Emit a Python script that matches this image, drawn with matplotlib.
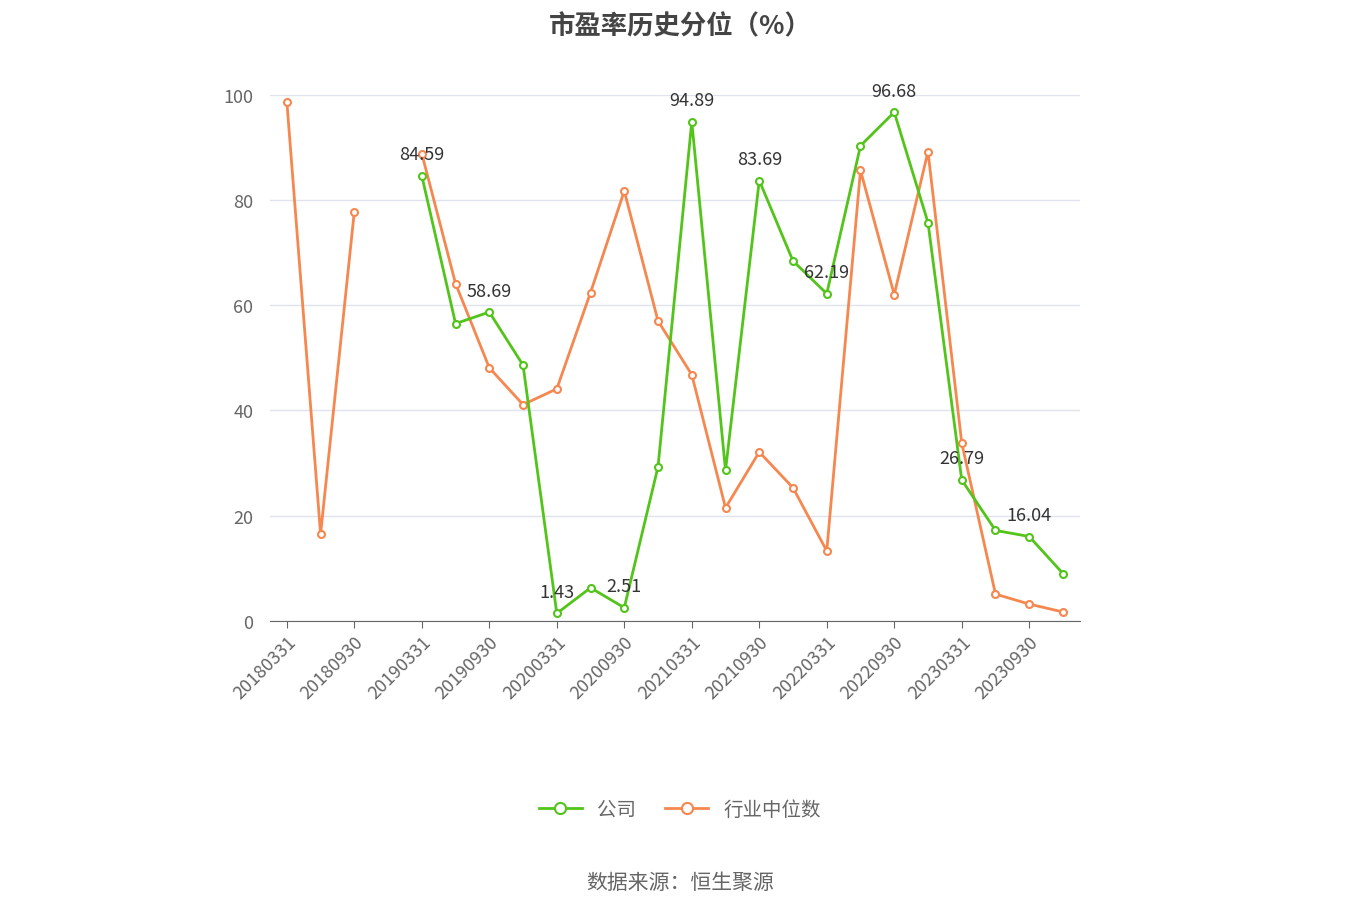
import matplotlib.pyplot as plt
import numpy as np

plt.rcParams['font.family'] = ['Noto Sans CJK SC', 'DejaVu Sans']

dates = ["20180331", "20180630", "20180930", "20181231",
         "20190331", "20190630", "20190930", "20191231",
         "20200331", "20200630", "20200930", "20201231",
         "20210331", "20210630", "20210930", "20211231",
         "20220331", "20220630", "20220930", "20221231",
         "20230331", "20230630", "20230930", "20231231"]
nan = np.nan
company = [nan, nan, nan, nan,
           84.59, 56.5, 58.69, 48.6,
           1.43, 6.3, 2.51, 29.3,
           94.89, 28.6, 83.69, 68.4,
           62.19, 90.3, 96.68, 75.7,
           26.79, 17.2, 16.04, 9.0]
industry = [98.7, 16.5, 77.8, nan,
            88.8, 64.1, 48.1, 41.1,
            44.1, 62.4, 81.7, 57.0,
            46.8, 21.5, 32.1, 25.3,
            13.3, 85.6, 62.0, 89.2,
            33.8, 5.1, 3.2, 1.7]
labeled = [4, 6, 8, 10, 12, 14, 16, 18, 20, 22]

green = "#52c41a"
orange = "#f5874f"
x = np.arange(len(dates))

fig = plt.figure(figsize=(13.6, 9.2), dpi=100)
ax = fig.add_axes([0.1985, 0.324, 0.5955, 0.572])

ax.plot(x, industry, color=orange, lw=2, marker="o", ms=5,
        mfc="white", mec=orange, mew=1.5, label="行业中位数", zorder=3)
ax.plot(x, company, color=green, lw=2, marker="o", ms=5,
        mfc="white", mec=green, mew=1.5, label="公司", zorder=4)
for i in labeled:
    ax.annotate(f"{company[i]:.2f}", (x[i], company[i]), xytext=(0, 9),
                textcoords="offset points", ha="center", va="bottom",
                fontsize=13, color="#333333", zorder=5)

ax.set_xlim(-0.5, len(dates) - 0.5)
ax.set_ylim(0, 100)
ax.set_yticks([0, 20, 40, 60, 80, 100])
ax.tick_params(axis="y", length=0, labelsize=13, labelcolor="#666666", pad=12)
ax.set_xticks(x[::2])
ax.set_xticklabels(dates[::2], rotation=45, ha="right", rotation_mode="anchor",
                   fontsize=13, color="#666666")
ax.tick_params(axis="x", length=5, color="#666666")
ax.grid(axis="y", color="#e0e3ee", lw=1)
ax.set_axisbelow(True)
for s in ["top", "right", "left"]:
    ax.spines[s].set_visible(False)
ax.spines["bottom"].set_color("#666666")

handles, labels = ax.get_legend_handles_labels()
fig.legend(handles[::-1], labels[::-1], loc="center", bbox_to_anchor=(0.5, 0.119),
           ncol=2, frameon=False, fontsize=14, labelcolor="#666666",
           handlelength=2.2, markerscale=1.6, columnspacing=1.5)

fig.suptitle("市盈率历史分位（%）", y=0.985, fontsize=19, fontweight="bold", color="#444444")
fig.text(0.5, 0.034, "数据来源：恒生聚源", ha="center", fontsize=15, color="#666666")

fig.savefig("out.png", dpi=100)
